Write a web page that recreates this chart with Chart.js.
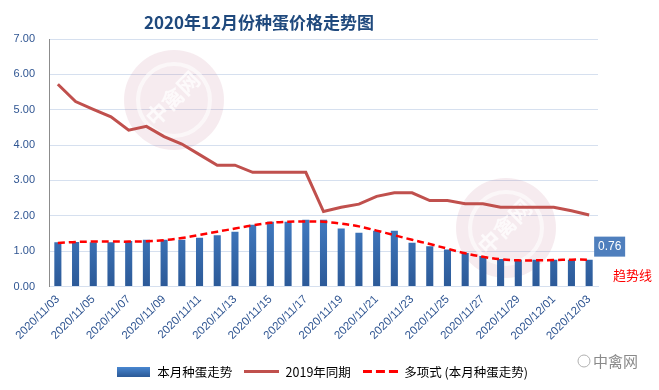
<!DOCTYPE html>
<html>
<head>
<meta charset="utf-8">
<script src="https://cdn.jsdelivr.net/npm/chart.js@4.4.0/dist/chart.umd.min.js"></script>
<style>
    html, body { margin: 0; padding: 0; background: #ffffff; }
    #wrap { width: 659px; height: 390px; }
</style>
</head>
<body>
<div id="wrap"><canvas id="priceChart" width="659" height="390"></canvas></div>
<script>
// Chart data
const dates = [
    '2020/11/03', '2020/11/04', '2020/11/05', '2020/11/06', '2020/11/07', '2020/11/08',
    '2020/11/09', '2020/11/10', '2020/11/11', '2020/11/12', '2020/11/13', '2020/11/14',
    '2020/11/15', '2020/11/16', '2020/11/17', '2020/11/18', '2020/11/19', '2020/11/20',
    '2020/11/21', '2020/11/22', '2020/11/23', '2020/11/24', '2020/11/25', '2020/11/26',
    '2020/11/27', '2020/11/28', '2020/11/29', '2020/11/30', '2020/12/01', '2020/12/02',
    '2020/12/03'
];
const thisMonth = [
    1.25, 1.26, 1.25, 1.25, 1.29, 1.32, 1.32, 1.32, 1.38, 1.45, 1.55,
    1.75, 1.83, 1.83, 1.89, 1.89, 1.64, 1.52, 1.58, 1.58, 1.24, 1.14,
    1.05, 0.95, 0.86, 0.78, 0.76, 0.76, 0.76, 0.76, 0.76
];
const lastYear = [
    5.72, 5.23, 5.01, 4.80, 4.42, 4.53, 4.24, 4.03, 3.73, 3.43, 3.43,
    3.23, 3.23, 3.23, 3.23, 2.12, 2.24, 2.33, 2.55, 2.65, 2.65, 2.43,
    2.43, 2.34, 2.34, 2.24, 2.24, 2.24, 2.24, 2.14, 2.02
];
const trendLine = [
    1.23, 1.26, 1.27, 1.27, 1.27, 1.28, 1.31, 1.37, 1.46, 1.55, 1.64,
    1.73, 1.80, 1.83, 1.84, 1.83, 1.78, 1.70, 1.58, 1.45, 1.32, 1.20,
    1.07, 0.94, 0.84, 0.77, 0.74, 0.74, 0.75, 0.76, 0.76
];
const seriesNames = ['本月种蛋走势', '2019年同期', '多项式 (本月种蛋走势)'];
const yTicks = [0, 1, 2, 3, 4, 5, 6, 7];

const TICK_BLUE = '#2f5592';
const GRID_BLUE = '#d6e0ef';
const BAR_TOP = '#4a88d2';
const BAR_BOTTOM = '#2c5a98';
const LINE_RED = '#c0504d';
const TREND_RED = '#ff0000';
const FONT = "'Liberation Sans', 'Noto Sans CJK SC', sans-serif";
const CJK_FONT = "'Noto Sans CJK SC', sans-serif";

// Vertical gradient for the bars
function barGradient(context) {
    const area = context.chart.chartArea;
    if (!area) return BAR_TOP;
    const g = context.chart.ctx.createLinearGradient(0, area.bottom, 0, area.top + 150);
    g.addColorStop(0, BAR_BOTTOM);
    g.addColorStop(1, BAR_TOP);
    return g;
}

// Small canvases used as legend symbols
function makeSymbol(w, h, draw) {
    const c = document.createElement('canvas');
    c.width = w;
    c.height = h;
    draw(c.getContext('2d'), w, h);
    return c;
}

const barSymbol = makeSymbol(33, 10, (ctx, w, h) => {
    const g = ctx.createLinearGradient(0, h, 0, 0);
    g.addColorStop(0, BAR_BOTTOM);
    g.addColorStop(1, BAR_TOP);
    ctx.fillStyle = g;
    ctx.fillRect(0, 0, w, h);
});
const lineSymbol = makeSymbol(35, 3, (ctx, w, h) => {
    ctx.fillStyle = LINE_RED;
    ctx.fillRect(0, 0, w, h);
});
const dashSymbol = makeSymbol(35, 3, (ctx, w, h) => {
    ctx.fillStyle = TREND_RED;
    [0, 13, 26].forEach(x => ctx.fillRect(x, 0, 9, h));
});
const legendSymbols = [barSymbol, lineSymbol, dashSymbol];

// Title, watermarks and value label drawn on the canvas
const decorations = {
    id: 'decorations',
    afterLayout(chart) {
        // centre the legend under the plot area rather than the canvas
        if (chart.legend) {
            chart.legend.left += 23;
            chart.legend.right += 23;
        }
    },
    beforeDatasetsDraw(chart) {
        const ctx = chart.ctx;
        ctx.save();
        // faint logo watermarks
        [[174, 100, 50], [506, 228, 50]].forEach(([cx, cy, r]) => {
            ctx.beginPath();
            ctx.arc(cx, cy, r, 0, Math.PI * 2);
            ctx.fillStyle = 'rgba(196, 120, 150, 0.15)';
            ctx.fill();
            ctx.beginPath();
            ctx.arc(cx, cy, r * 0.72, 0, Math.PI * 2);
            ctx.strokeStyle = 'rgba(255, 255, 255, 0.6)';
            ctx.lineWidth = 4;
            ctx.stroke();
            ctx.translate(cx, cy);
            ctx.rotate(-Math.PI / 4);
            ctx.fillStyle = 'rgba(255, 255, 255, 0.75)';
            ctx.font = 'bold 22px ' + CJK_FONT;
            ctx.textAlign = 'center';
            ctx.textBaseline = 'middle';
            ctx.fillText('中禽网', 0, -2);
            ctx.setTransform(1, 0, 0, 1, 0, 0);
        });
        ctx.restore();
    },
    afterDraw(chart) {
        const ctx = chart.ctx;
        ctx.save();

        // title
        ctx.fillStyle = '#1f497d';
        ctx.font = 'bold 17px ' + CJK_FONT;
        ctx.textAlign = 'center';
        ctx.textBaseline = 'middle';
        ctx.fillText('2020年12月份种蛋价格走势图', 259, 23);

        // last value label
        const meta = chart.getDatasetMeta(0);
        const lastBar = meta.data[meta.data.length - 1];
        const lastValue = thisMonth[thisMonth.length - 1];
        const bx = lastBar.x + 5;
        const by = chart.scales.y.getPixelForValue(lastValue) - 23;
        ctx.fillStyle = '#4f7fbd';
        ctx.fillRect(bx, by, 31, 20);
        ctx.fillStyle = '#ffffff';
        ctx.font = '12px ' + FONT;
        ctx.fillText(lastValue.toFixed(2), bx + 15.5, by + 10.5);

        // trend line note
        ctx.fillStyle = TREND_RED;
        ctx.font = '13px ' + CJK_FONT;
        ctx.textAlign = 'left';
        ctx.fillText('趋势线', 613, 275);

        // source mark
        ctx.fillStyle = '#8a8a8a';
        ctx.font = '15px ' + CJK_FONT;
        ctx.fillText('中禽网', 593, 361);
        ctx.strokeStyle = '#b0b0b0';
        ctx.lineWidth = 1;
        ctx.beginPath();
        ctx.arc(584, 361, 6, 0, Math.PI * 2);
        ctx.stroke();

        ctx.restore();
    }
};

// Initialize the chart
function initializePriceChart() {
    const canvas = document.getElementById('priceChart');
    if (!canvas) return;

    const ctx = canvas.getContext('2d');

    new Chart(ctx, {
        type: 'bar',
        data: {
            labels: dates,
            datasets: [
                {
                    type: 'bar',
                    label: seriesNames[0],
                    data: thisMonth,
                    backgroundColor: barGradient,
                    borderWidth: 0,
                    categoryPercentage: 0.8,
                    barPercentage: 0.5,
                    order: 3
                },
                {
                    type: 'line',
                    label: seriesNames[1],
                    data: lastYear,
                    borderColor: LINE_RED,
                    borderWidth: 3,
                    pointRadius: 0,
                    tension: 0,
                    order: 2
                },
                {
                    type: 'line',
                    label: seriesNames[2],
                    data: trendLine,
                    borderColor: TREND_RED,
                    borderWidth: 2.5,
                    borderDash: [7, 4],
                    pointRadius: 0,
                    tension: 0.4,
                    order: 1
                }
            ]
        },
        options: {
            responsive: false,
            animation: false,
            layout: {
                padding: { top: 39, right: 61, bottom: 2, left: 0 }
            },
            plugins: {
                title: { display: false },
                tooltip: { enabled: false },
                legend: {
                    position: 'bottom',
                    labels: {
                        usePointStyle: true,
                        pointStyleWidth: 35,
                        boxHeight: 12.5,
                        padding: 12,
                        color: '#000000',
                        font: { size: 12.5, family: CJK_FONT },
                        generateLabels: function(chart) {
                            return chart.data.datasets.map((ds, i) => ({
                                text: ds.label,
                                pointStyle: legendSymbols[i],
                                fillStyle: 'transparent',
                                strokeStyle: 'transparent',
                                lineWidth: 0,
                                fontColor: '#000000',
                                datasetIndex: i,
                                hidden: false
                            }));
                        }
                    }
                }
            },
            scales: {
                x: {
                    grid: { display: false, drawTicks: false },
                    border: { color: GRID_BLUE },
                    ticks: {
                        autoSkip: false,
                        minRotation: 45,
                        maxRotation: 45,
                        padding: 6,
                        color: TICK_BLUE,
                        font: { size: 11.5, family: FONT },
                        callback: function(value, index) {
                            return index % 2 === 0 ? dates[index] : '';
                        }
                    },
                    afterFit: function(scale) {
                        scale.height = 67;
                    }
                },
                y: {
                    min: yTicks[0],
                    max: yTicks[yTicks.length - 1],
                    grid: { color: GRID_BLUE, drawTicks: false },
                    border: { color: '#8c8c8c' },
                    afterBuildTicks: function(scale) {
                        scale.ticks = yTicks.map(v => ({ value: v }));
                    },
                    ticks: {
                        padding: 14,
                        color: TICK_BLUE,
                        font: { size: 11, family: FONT },
                        callback: function(value) {
                            return Number(value).toFixed(2);
                        }
                    },
                    afterFit: function(scale) {
                        scale.width = 49;
                    }
                }
            }
        },
        plugins: [decorations]
    });
}

if (document.readyState === 'loading') {
    document.addEventListener('DOMContentLoaded', initializePriceChart);
} else {
    initializePriceChart();
}
</script>
</body>
</html>
